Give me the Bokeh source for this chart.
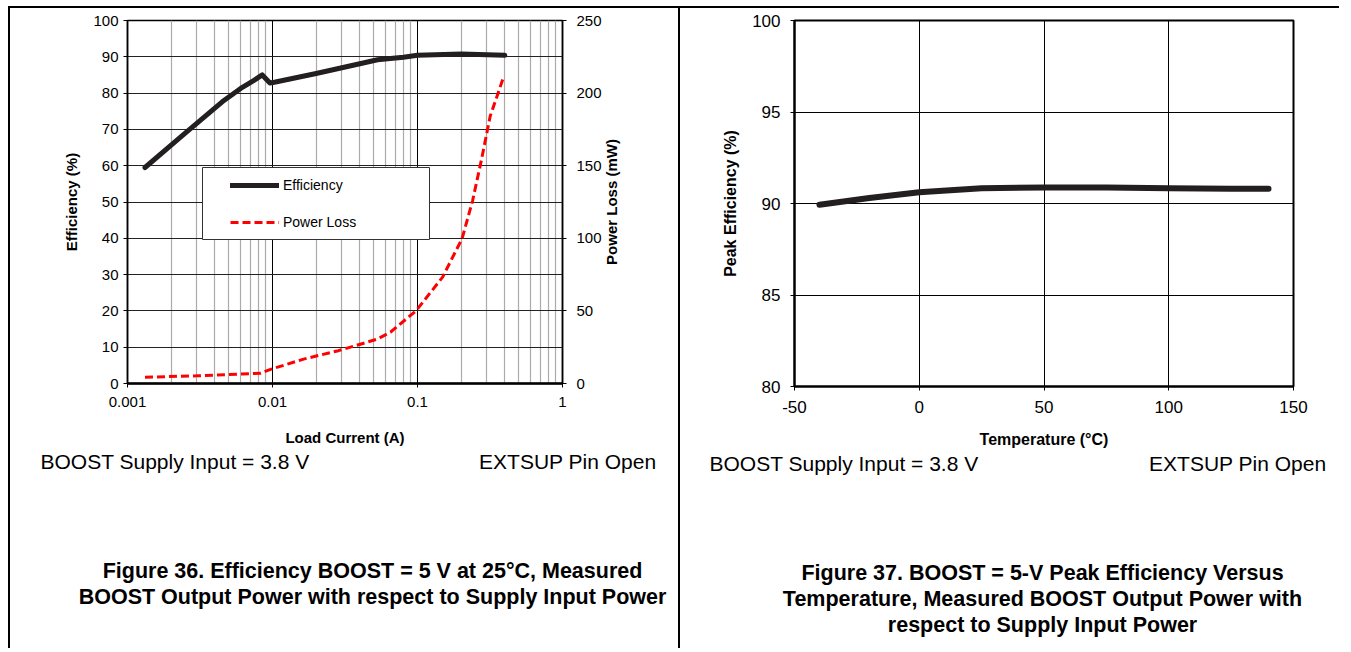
import math
from bokeh.plotting import figure
from bokeh.models import (Range1d, LinearAxis, FixedTicker, PrintfTickFormatter,
                          Label, Legend, LegendItem, BoxAnnotation, Spacer)
from bokeh.layouts import row, column
from bokeh.embed import file_html
from bokeh.resources import INLINE

# ---------------- data ----------------
load_current_eff = [0.00132, 0.0025, 0.0045, 0.0062, 0.0075, 0.0085, 0.0096, 0.0103,
                    0.02, 0.04, 0.053, 0.08, 0.1, 0.2, 0.4]
efficiency = [59.5, 69.0, 77.6, 81.6, 83.6, 85.0, 82.8, 83.0,
              85.4, 88.1, 89.2, 89.9, 90.4, 90.8, 90.4]

load_current_loss = [0.00132, 0.003, 0.0083, 0.0098, 0.0164, 0.0285, 0.053,
                     0.065, 0.098, 0.149, 0.203, 0.24, 0.276, 0.317, 0.389]
power_loss = [4.3, 5.3, 7.1, 9.9, 16.8, 22.6, 30.6,
              35.3, 50.2, 73.3, 99.8, 126, 154, 184, 210]

temperature = [-40, -20, 0, 25, 50, 75, 100, 125, 140]
peak_efficiency = [89.93, 90.3, 90.62, 90.83, 90.88, 90.87, 90.84, 90.81, 90.8]

current_ticks = [0.001, 0.01, 0.1, 1]
eff_ticks = [0, 10, 20, 30, 40, 50, 60, 70, 80, 90, 100]
loss_ticks = [0, 50, 100, 150, 200, 250]
temp_ticks = [-50, 0, 50, 100, 150]
peak_ticks = [80, 85, 90, 95, 100]

FONT = "Liberation Sans"
BORDER = 2
PAGE_X0, PAGE_Y0 = 8, 6          # outer table lines
MID_X = 680                       # middle table line
RIGHT_X = 1343
CANVAS_TOP = PAGE_Y0 + BORDER     # 8
SPLIT_Y = 450                     # chart / text boundary
PAGE_BOTTOM = 650
LOSS_LABEL_X0 = 606               # start of the strip holding the right axis title
BSTYLE = "2px solid black"
NOTE_SIZE = "21px"
CAPTION_SIZE = "21.5px"


def no_align(p):
    if "frame_align" in p.properties():
        p.frame_align = False


def blank_panel(x0, x1, y0, y1, styles):
    t = figure(width=x1 - x0, height=y1 - y0,
               x_range=Range1d(x0, x1), y_range=Range1d(y1, y0),
               output_backend="svg", toolbar_location=None,
               x_axis_location=None, y_axis_location=None, min_border=0,
               styles=styles)
    no_align(t)
    t.grid.visible = False
    t.outline_line_color = None
    return t


def add_text(t, x, y, text, align, size, bold=False, angle=0):
    t.add_layout(Label(x=x, y=y, text=text, text_align=align, text_baseline="middle",
                       text_font=FONT, text_font_size=size, text_color="black",
                       angle=angle,
                       text_font_style="bold" if bold else "normal"))


# ---------------- left chart ----------------
F1L, F1R, F1T, F1B = 127, 562, 20, 383
C1X = PAGE_X0 + BORDER

p1 = figure(width=LOSS_LABEL_X0 - C1X, height=SPLIT_Y - CANVAS_TOP, x_axis_type="log",
            x_range=(0.001, 1), y_range=(0, 100),
            output_backend="svg", toolbar_location=None,
            min_border_left=F1L - C1X, min_border_right=LOSS_LABEL_X0 - F1R,
            min_border_top=F1T - CANVAS_TOP, min_border_bottom=SPLIT_Y - F1B,
            styles={"border-left": BSTYLE, "border-top": BSTYLE})
no_align(p1)
p1.extra_y_ranges = {"loss": Range1d(0, 250)}
p1.outline_line_color = "black"
p1.outline_line_width = 1.5

minor = [m * d for d in [0.001, 0.01, 0.1] for m in range(2, 10)]
p1.xaxis.ticker = FixedTicker(ticks=current_ticks, minor_ticks=minor)
p1.xaxis.formatter = PrintfTickFormatter(format="%g")
p1.yaxis.ticker = FixedTicker(ticks=eff_ticks)
p1.xgrid.grid_line_color = "black"
p1.xgrid.grid_line_width = 1
p1.xgrid.minor_grid_line_color = "#ababab"
p1.xgrid.minor_grid_line_width = 1.2
p1.ygrid.grid_line_color = "#222222"
p1.ygrid.grid_line_width = 1.2

ax_r = LinearAxis(y_range_name="loss", ticker=FixedTicker(ticks=loss_ticks))
p1.add_layout(ax_r, "right")

p1.xaxis.axis_label = "Load Current (A)"
p1.yaxis[0].axis_label = "Efficiency (%)"

for ax in p1.xaxis + p1.yaxis:
    ax.major_label_text_font = FONT
    ax.major_label_text_font_size = "15px"
    ax.major_label_text_color = "black"
    ax.axis_label_text_font = FONT
    ax.axis_label_text_font_size = "15px"
    ax.axis_label_text_font_style = "bold"
    ax.axis_label_text_color = "black"
    ax.major_tick_in = 0
    ax.major_tick_out = 4
    ax.major_tick_line_color = "black"
    ax.minor_tick_line_color = None
    ax.axis_line_color = "black"
    ax.axis_line_width = 1.5

p1.xaxis.major_label_standoff = 9
p1.xaxis.axis_label_standoff = 19
p1.xaxis.axis_line_width = 2.5
p1.yaxis[0].major_label_standoff = 5
p1.yaxis[0].axis_label_standoff = 10
ax_r.major_label_standoff = 10

r_eff = p1.line(load_current_eff, efficiency, line_color="#231f20", line_width=5,
                line_join="round", line_cap="round")
r_loss = p1.line(load_current_loss, power_loss, y_range_name="loss", line_color="#ff0000",
                 line_width=3, line_dash="8 4")

box = BoxAnnotation(left=202 - F1L, right=429 - F1L, top=F1B - 167, bottom=F1B - 239,
                    left_units="screen", right_units="screen", top_units="screen",
                    bottom_units="screen", fill_color="white", fill_alpha=1,
                    line_color="#333333", line_width=1, line_alpha=1)
p1.add_layout(box)
legend = Legend(items=[LegendItem(label="Efficiency", renderers=[r_eff]),
                       LegendItem(label="Power Loss", renderers=[r_loss])],
                location=(230 - F1L, F1B - 232), padding=0, margin=0, spacing=17,
                glyph_width=49, glyph_height=20, label_height=20, label_standoff=4,
                label_text_font=FONT, label_text_font_size="14px",
                label_text_color="black", background_fill_alpha=0,
                border_line_color=None)
p1.add_layout(legend)

# strip to the right of the left chart carrying the secondary axis title
s1 = blank_panel(LOSS_LABEL_X0, MID_X, CANVAS_TOP, SPLIT_Y, {"border-top": BSTYLE})
add_text(s1, 613, (F1T + F1B) / 2, "Power Loss (mW)", "center", "15px", True,
         angle=math.pi / 2)

# ---------------- right chart ----------------
F2L, F2R, F2T, F2B = 796, 1295, 20, 386
C2X = MID_X + BORDER
W2 = RIGHT_X - C2X

p2 = figure(width=W2, height=SPLIT_Y - CANVAS_TOP, x_range=(-50, 150), y_range=(80, 100),
            output_backend="svg", toolbar_location=None,
            min_border_left=F2L - C2X, min_border_right=RIGHT_X - F2R,
            min_border_top=F2T - CANVAS_TOP, min_border_bottom=SPLIT_Y - F2B,
            styles={"border-left": BSTYLE, "border-top": BSTYLE})
no_align(p2)
p2.outline_line_color = "black"
p2.outline_line_width = 2
p2.xaxis.ticker = FixedTicker(ticks=temp_ticks)
p2.xaxis.formatter = PrintfTickFormatter(format="%d")
p2.yaxis.ticker = FixedTicker(ticks=peak_ticks)
p2.xgrid.grid_line_color = "black"
p2.ygrid.grid_line_color = "black"
p2.xgrid.grid_line_width = 1
p2.ygrid.grid_line_width = 1
p2.xaxis.axis_label = "Temperature (°C)"
p2.yaxis.axis_label = "Peak Efficiency (%)"
for ax in p2.xaxis + p2.yaxis:
    ax.major_label_text_font = FONT
    ax.major_label_text_font_size = "17px"
    ax.major_label_text_color = "black"
    ax.axis_label_text_font = FONT
    ax.axis_label_text_font_size = "16px"
    ax.axis_label_text_font_style = "bold"
    ax.axis_label_text_color = "black"
    ax.major_tick_in = 0
    ax.major_tick_out = 4
    ax.major_tick_line_color = "black"
    ax.minor_tick_line_color = None
    ax.axis_line_color = "black"
    ax.axis_line_width = 2
p2.xaxis.major_label_standoff = 10
p2.xaxis.axis_label_standoff = 15
p2.yaxis.major_label_standoff = 10
p2.yaxis.axis_label_standoff = 10

p2.line(temperature, peak_efficiency, line_color="#231f20", line_width=6,
        line_join="round", line_cap="round")

# ---------------- text panels (page pixel coordinates) ----------------
t1 = blank_panel(C1X, MID_X, SPLIT_Y, PAGE_BOTTOM, {"border-left": BSTYLE})
add_text(t1, 40, 463, "BOOST Supply Input = 3.8 V", "left", NOTE_SIZE)
add_text(t1, 656, 463, "EXTSUP Pin Open", "right", NOTE_SIZE)
add_text(t1, 372, 572, "Figure 36. Efficiency BOOST = 5 V at 25°C, Measured",
         "center", CAPTION_SIZE, True)
add_text(t1, 372, 598, "BOOST Output Power with respect to Supply Input Power",
         "center", CAPTION_SIZE, True)

t2 = blank_panel(C2X, RIGHT_X, SPLIT_Y, PAGE_BOTTOM, {"border-left": BSTYLE})
add_text(t2, 711, 465, "BOOST Supply Input = 3.8 V", "left", NOTE_SIZE)
add_text(t2, 1328, 465, "EXTSUP Pin Open", "right", NOTE_SIZE)
add_text(t2, 1044, 574, "Figure 37. BOOST = 5-V Peak Efficiency Versus",
         "center", CAPTION_SIZE, True)
add_text(t2, 1044, 600, "Temperature, Measured BOOST Output Power with",
         "center", CAPTION_SIZE, True)
add_text(t2, 1044, 626, "respect to Supply Input Power", "center", CAPTION_SIZE, True)

left_col = column(row(p1, s1, spacing=0), t1, spacing=0)
right_col = column(p2, t2, spacing=0)
page = column(Spacer(height=PAGE_Y0),
              row(Spacer(width=PAGE_X0), left_col, right_col, spacing=0),
              spacing=0)
open("out.html", "w").write(file_html(page, INLINE))
